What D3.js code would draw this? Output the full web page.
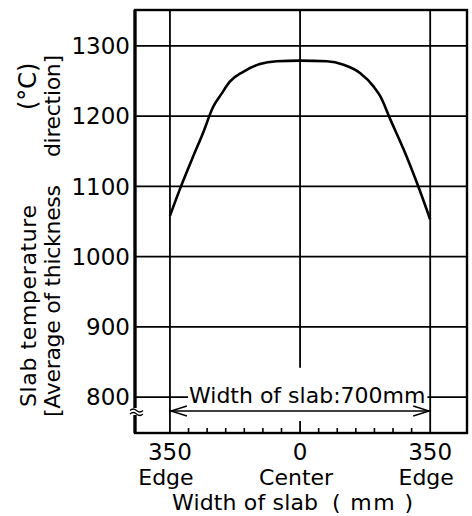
<!DOCTYPE html>
<html>
<head>
<meta charset="utf-8">
<script src="https://cdn.jsdelivr.net/npm/d3@7"></script>
<style>
  body { margin: 0; background: #fff; }
  text { font-family: "DejaVu Sans", sans-serif; fill: #000; }
</style>
</head>
<body>
<svg id="chart"></svg>
<script>
// slab temperature across the width (mm from center, degC)
const widthPos = [-350, -324, -288, -261, -234, -211, -189, -153, -108, -63, 0, 72, 117, 162, 198, 216, 243, 279, 315, 350];
const slabTemp = [1058, 1095, 1142, 1176, 1213, 1232, 1249, 1263, 1274, 1278, 1279, 1278, 1273, 1261, 1242, 1228, 1195, 1152, 1104, 1053];

const yTicks = [800, 900, 1000, 1100, 1200, 1300];
const xTicks = [-350, 0, 350];
const xTickLabels = ["350", "0", "350"];
const xTickNames = ["Edge", "Center", "Edge"];
const minorTicks = [-300, -250, -200, -150, -100, -50, 50, 100, 150, 200, 250, 300];
const centerLineEnd = 842;

const W = 472, H = 516;
const svg = d3.select("#chart").attr("width", W).attr("height", H);

const x = d3.scaleLinear().domain([-444, 449]).range([135, 467]);
const y = d3.scaleLinear().domain([749, 1351]).range([433, 10]);
const [x0, x1] = x.range();
const [yb, yt] = y.range();

// grid
svg.append("g")
    .selectAll("line")
    .data(yTicks)
    .join("line")
        .attr("x1", x0).attr("x2", x1)
        .attr("y1", d => y(d)).attr("y2", d => y(d))
        .attr("stroke", "#000").attr("stroke-width", 1.6);

svg.append("g")
    .selectAll("line")
    .data(xTicks)
    .join("line")
        .attr("x1", d => x(d)).attr("x2", d => x(d))
        .attr("y1", yt)
        .attr("y2", d => d === 0 ? y(centerLineEnd) : yb)
        .attr("stroke", "#000").attr("stroke-width", 1.8);

// bottom ticks
svg.append("g")
    .selectAll("line")
    .data(minorTicks)
    .join("line")
        .attr("x1", d => x(d)).attr("x2", d => x(d))
        .attr("y1", yb).attr("y2", yb - 5)
        .attr("stroke", "#000").attr("stroke-width", 1.6);
svg.append("line")
    .attr("x1", x(0)).attr("x2", x(0))
    .attr("y1", yb).attr("y2", yb - 12)
    .attr("stroke", "#000").attr("stroke-width", 1.8);

// width label with blank background over the 800 line
const wLabel = svg.append("text")
    .attr("x", 189).attr("y", 403)
    .attr("font-size", 22)
    .text("Width of slab:700mm");
const bb = wLabel.node().getBBox();
svg.insert("rect", "text")
    .attr("x", bb.x - 1).attr("y", bb.y + 4)
    .attr("width", bb.width + 3).attr("height", bb.height - 8)
    .attr("fill", "#fff");

// double arrow
const ay = 411;
const ax0 = x(-350), ax1 = x(350);
svg.append("line")
    .attr("x1", ax0).attr("x2", ax1)
    .attr("y1", ay).attr("y2", ay)
    .attr("stroke", "#000").attr("stroke-width", 1.6);
svg.append("path")
    .attr("d", `M${ax0 + 17},${ay - 5}L${ax0 + 1},${ay}L${ax0 + 17},${ay + 5}` +
               `M${ax1 - 17},${ay - 5}L${ax1 - 1},${ay}L${ax1 - 17},${ay + 5}`)
    .attr("fill", "none").attr("stroke", "#000").attr("stroke-width", 1.4);

// frame
svg.append("rect")
    .attr("x", x0).attr("y", yt)
    .attr("width", x1 - x0).attr("height", yb - yt)
    .attr("fill", "none").attr("stroke", "#000").attr("stroke-width", 2.4);
svg.append("line")
    .attr("x1", x0).attr("x2", x0).attr("y1", yt).attr("y2", yb)
    .attr("stroke", "#000").attr("stroke-width", 3.2);

// axis break
svg.append("rect")
    .attr("x", x0 - 3).attr("y", 408).attr("width", 6).attr("height", 7)
    .attr("fill", "#fff");
svg.append("path")
    .attr("d", "M130,410.5q3.2,-3 6.5,0t6.5,0M130,414q3.2,-3 6.5,0t6.5,0")
    .attr("fill", "none").attr("stroke", "#000").attr("stroke-width", 1.3);

// curve
const line = d3.line()
    .x((d, i) => x(widthPos[i]))
    .y(d => y(d))
    .curve(d3.curveMonotoneX);
svg.append("path")
    .datum(slabTemp)
    .attr("d", line)
    .attr("fill", "none")
    .attr("stroke", "#000")
    .attr("stroke-width", 2.6)
    .attr("stroke-linejoin", "round");

// y tick labels
svg.append("g")
    .selectAll("text")
    .data(yTicks)
    .join("text")
        .attr("x", 130)
        .attr("y", d => y(d))
        .attr("dy", "0.36em")
        .attr("text-anchor", "end")
        .attr("font-size", 23)
        .text(d => d);

// x tick labels
svg.append("g")
    .selectAll("text")
    .data(xTicks)
    .join("text")
        .attr("x", d => x(d))
        .attr("y", 460)
        .attr("text-anchor", "middle")
        .attr("font-size", 23)
        .text((d, i) => xTickLabels[i]);
svg.append("g")
    .selectAll("text")
    .data(xTicks)
    .join("text")
        .attr("x", d => x(d) - 4)
        .attr("y", 485)
        .attr("text-anchor", "middle")
        .attr("font-size", 22)
        .text((d, i) => xTickNames[i]);

// x title
svg.append("text")
    .attr("x", 172).attr("y", 510)
    .attr("font-size", 22)
    .attr("textLength", 146).attr("lengthAdjust", "spacing")
    .text("Width of slab");
svg.append("text")
    .attr("x", 332).attr("y", 510)
    .attr("font-size", 22)
    .attr("textLength", 81).attr("lengthAdjust", "spacing")
    .style("white-space", "pre")
    .text("( mm )");

// y title, two rotated lines
const yTitle = [
    {text: "Slab temperature", base: 36, from: 407, to: 205},
    {text: "(°C)", base: 36, from: 110, to: 60},
    {text: "[Average of thickness", base: 60, from: 417, to: 185},
    {text: "direction]", base: 60, from: 157, to: 55}
];
svg.append("g")
    .attr("transform", "rotate(-90)")
    .selectAll("text")
    .data(yTitle)
    .join("text")
        .attr("x", d => -d.from)
        .attr("y", d => d.base)
        .attr("font-size", d => d.text.length < 5 ? 24 : 22)
        .attr("textLength", d => d.text.length < 5 ? null : d.from - d.to)
        .attr("lengthAdjust", "spacing")
        .text(d => d.text);
</script>
</body>
</html>
